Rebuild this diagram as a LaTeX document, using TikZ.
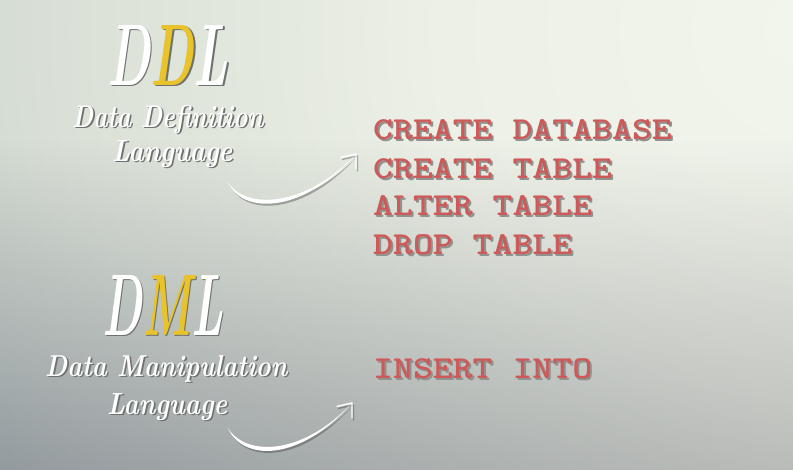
\documentclass[tikz,border=0pt]{standalone}
\usepackage{fontspec}
\usepackage{graphicx}
\usetikzlibrary{fadings}

% typewriter face for the SQL commands
\newfontfamily\codefont{lmmonolt10-bold.otf}

\definecolor{glow0}{HTML}{F2F5EC}
\definecolor{glow1}{HTML}{ECF0E6}
\definecolor{glow2}{HTML}{DBE1D7}
\definecolor{glow3}{HTML}{C2CDC7}
\definecolor{glow4}{HTML}{A6B7B1}
\definecolor{glow5}{HTML}{8A9D9B}
\definecolor{dusk}{HTML}{555D70}
\definecolor{dusk2}{HTML}{A7A7A3}
\definecolor{codered}{HTML}{CD5959}
\definecolor{hlyellow}{HTML}{E8C32B}
\definecolor{handshade}{HTML}{6E726F}
\definecolor{codeshade}{HTML}{8F928E}
\definecolor{softshadow}{HTML}{2E2E2E}

\pgfdeclareradialshading{bgglow}{\pgfpoint{0bp}{0bp}}{%
  color(0bp)=(glow0); color(9.5bp)=(glow1); color(19bp)=(glow2);
  color(28.5bp)=(glow3); color(38bp)=(glow4); color(47.5bp)=(glow5);
  color(50bp)=(glow5)}
\tikzfading[name=bandfade, top color=transparent!100, bottom color=transparent!28]

\newcommand\hilitecolor{hlyellow}
\newcommand\hilite[1]{{\color{\hilitecolor}#1}}

\tikzset{
  handlabel/.style={anchor=base west, inner sep=0pt, text=white,
    font=\bfseries\itshape},
  codelabel/.style={anchor=base west, inner sep=0pt, text=codered,
    font=\codefont\fontsize{32}{32}\selectfont},
  swooshfill/.style={color=white},
  swooshshadow/.style={color=softshadow, opacity=0.35},
}

% script label with a drop shadow: name, base-west point, width, height, text
\newcommand\handtext[5]{%
  \node[handlabel] (#1) at (#2)
    {\rlap{\kern1.6pt\raisebox{-1.9pt}{\color{handshade}%
       \renewcommand\hilitecolor{.}\resizebox{#3pt}{#4pt}{#5}}}%
     \resizebox{#3pt}{#4pt}{#5}};
}
% SQL command with a drop shadow: name, base-west point, text
\newcommand\codetext[3]{%
  \node[codelabel] (#1) at (#2)
    {\rlap{\kern2pt\raisebox{-2.2pt}{\color{codeshade}\scalebox{1.185}[1]{#3}}}%
     \scalebox{1.185}[1]{#3}};
}
% tapered curved arrow from a tail coordinate to a head coordinate
\newcommand\swoosh[3]{%
  \fill[#1] (#2) .. controls +(17,28) and +(-51,54) .. (#3)
    .. controls +(-53,60) and +(14,33) .. (#2) -- cycle;
  \draw[#1, line width=1.4pt, line cap=round, line join=round]
    ([shift={(-15,3.4)}]#3) -- (#3) -- ([shift={(0,15)}]#3);
}

\begin{document}
\begin{tikzpicture}[x=1pt, y=-1pt]
\useasboundingbox (0,0) rectangle (793,469);

% backdrop: pale glow at the upper right, darker haze towards the bottom
\begin{scope}
  \clip (0,0) rectangle (793,469);
  \shade[shading=bgglow] (800,30) circle (950);
  \shade[left color=dusk, right color=dusk2, path fading=bandfade]
    (-300,140) rectangle (1100,560);
\end{scope}

% headings
\handtext{ddl}{107,85}{121}{60}{D\hilite{D}L}
\handtext{ddl-name}{72,127}{191}{22}{Data Definition}
\handtext{ddl-lang}{112,161}{120}{21}{Language}

\handtext{dml}{102,335}{121}{60}{D\hilite{M}L}
\handtext{dml-name}{45,376}{242}{21}{Data Manipulation}
\handtext{dml-lang}{107,414}{120}{21}{Language}

% commands
\codetext{create-db}{373,139}{CREATE DATABASE}
\codetext{create-tab}{373,178}{CREATE TABLE}
\codetext{alter-tab}{373,215.5}{ALTER TABLE}
\codetext{drop-tab}{373,254.5}{DROP TABLE}
\codetext{insert}{373,378}{INSERT INTO}

% arrows from the headings to the command lists
\coordinate (ddl-tail) at (228,182);
\coordinate (ddl-head) at (356,154);
\coordinate (dml-tail) at (228,428);
\coordinate (dml-head) at (352,403);

\begin{scope}[transform canvas={xshift=1.5pt, yshift=-2pt}]
  \swoosh{swooshshadow}{ddl-tail}{ddl-head}
  \swoosh{swooshshadow}{dml-tail}{dml-head}
\end{scope}
\swoosh{swooshfill}{ddl-tail}{ddl-head}
\swoosh{swooshfill}{dml-tail}{dml-head}
\end{tikzpicture}
\end{document}
